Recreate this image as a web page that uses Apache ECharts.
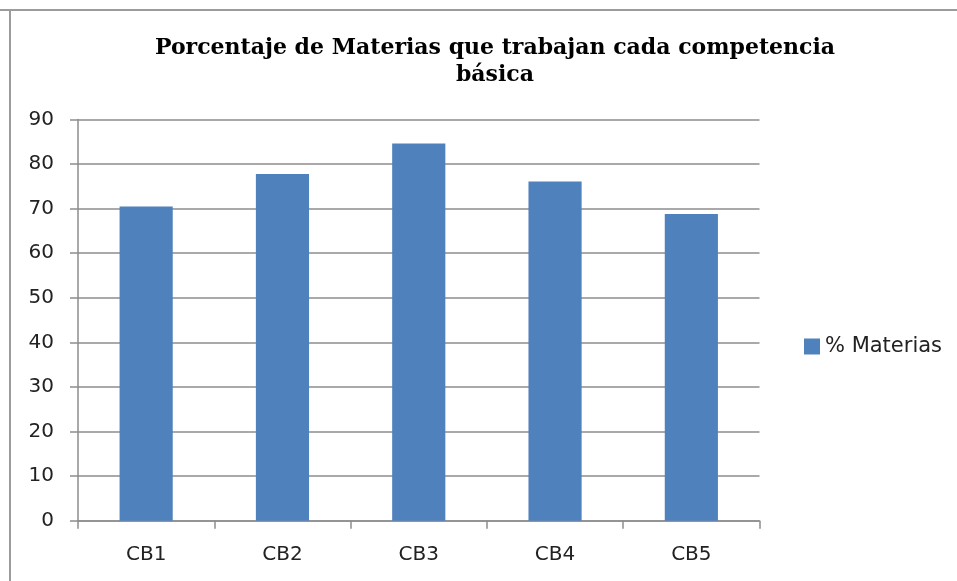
<!DOCTYPE html>
<html><head><meta charset="utf-8">
<script src="https://cdn.jsdelivr.net/npm/echarts@6/dist/echarts.min.js"></script>
<style>html,body{margin:0;padding:0;background:#fff}#c{width:957px;height:581px}</style>
</head><body><div id="c"></div>
<script>
var categories = ['CB1','CB2','CB3','CB4','CB5'];
var values = [70.5, 77.8, 84.6, 76.1, 68.8];
var seriesName = '% Materias';
var titleText = 'Porcentaje de Materias que trabajan cada competencia\nbásica';

var chart = echarts.init(document.getElementById('c'), null, {renderer:'canvas'});
chart.setOption({
  animation:false,
  backgroundColor:'#fff',
  title:{
    text:titleText, left:490, top:30, textAlign:'center',
    textStyle:{fontFamily:'DejaVu Serif', fontWeight:'bold', fontSize:22, lineHeight:27, color:'#000'}
  },
  legend:{
    data:[seriesName], left:799, top:331, itemWidth:16, itemHeight:16, itemGap:6,
    icon:'rect',
    textStyle:{fontFamily:'DejaVu Sans', fontSize:21, color:'#222'}
  },
  grid:{left:78, right:197.5, top:119.5, bottom:60.3, containLabel:false},
  xAxis:{
    type:'category', data:categories,
    axisLine:{lineStyle:{color:'#8d8d8d', width:1.5}},
    axisTick:{show:true, alignWithLabel:false, length:8, lineStyle:{color:'#8d8d8d', width:1.5}},
    axisLabel:{fontFamily:'DejaVu Sans', fontSize:20, color:'#222', margin:24}
  },
  yAxis:{
    type:'value', min:0, max:90, interval:10,
    axisLine:{show:true, lineStyle:{color:'#8d8d8d', width:1.5}},
    axisTick:{show:true, length:8, lineStyle:{color:'#8d8d8d', width:1.5}},
    axisLabel:{fontFamily:'DejaVu Sans', fontSize:20, color:'#222', margin:24},
    splitLine:{lineStyle:{color:'#8d8d8d', width:1.5}}
  },
  series:[{
    name:seriesName, type:'bar', data:values, barWidth:'39%',
    itemStyle:{color:'#4f81bd'}
  }],
  graphic:[
    {type:'line', shape:{x1:0,y1:10,x2:957,y2:10}, style:{stroke:'#9c9c9c', lineWidth:2}},
    {type:'line', shape:{x1:10,y1:10,x2:10,y2:581}, style:{stroke:'#9c9c9c', lineWidth:2}}
  ]
});
</script></body></html>
